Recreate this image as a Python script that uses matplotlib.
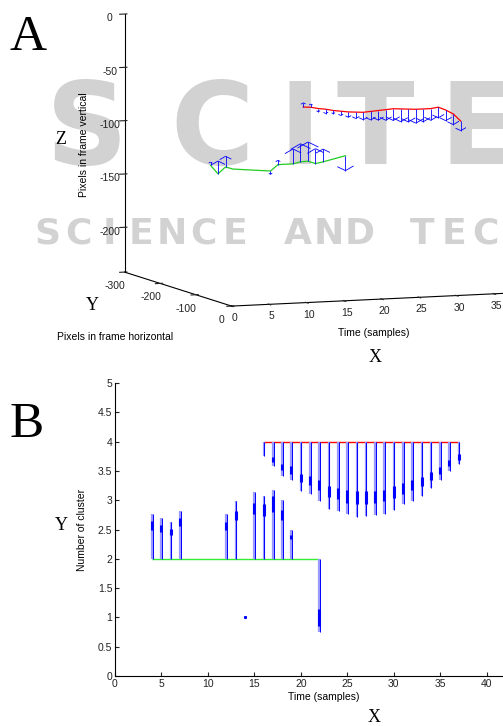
import matplotlib.pyplot as plt

# ---- panel A: trajectories (time, horizontal pixel, vertical pixel)
t_red = [16, 17, 18, 19, 20, 21, 22, 23, 24, 25, 26, 27, 28, 29, 30, 31, 32, 33, 34, 35, 36, 37]
y_red = [-135, -135, -135, -135, -135, -135, -135, -135, -135, -135, -135,
         -135, -135, -135, -135, -135, -135, -135, -135, -135, -135, -135]
z_red = [-75, -75.5, -77, -78, -79.5, -80.5, -81.5, -82, -82.5, -82, -81.5,
         -81, -80.5, -81, -81.5, -82, -82, -82, -81, -84, -88, -95]
dz_red = [4, 3, -3, -4, -3, -4, -5, -6, -7, -8, -9, -10, -11, -12, -12, -13,
          -12, -11, -10, -10, -10, -9]

t_green = [4, 5, 6, 7, 12, 13, 15, 16, 17, 18, 19, 22]
y_green = [-143, -143, -143, -143, -143, -143, -143, -143, -143, -143, -143, -143]
z_green = [-126.5, -134.8, -128.7, -131, -134.5, -128.8, -128.8, -127.2, -126.9, -129.5, -128.2, -123.4]
dz_green = [3, 12, 10, 0, -3, 4, 14, 17, 18, 14, 12, -14]

# ---- panel B: cluster membership over time
t_c4 = [16, 17, 18, 19, 20, 21, 22, 23, 24, 25, 26, 27, 28, 29, 30, 31, 32, 33, 34, 35, 36, 37]
c4_end = [3.76, 3.58, 3.42, 3.35, 3.15, 3.11, 2.99, 2.85, 2.81, 2.76, 2.72,
          2.73, 2.74, 2.77, 2.84, 2.94, 2.99, 3.08, 3.21, 3.34, 3.49, 3.62]
c4_box_hi = [3.80, 3.73, 3.62, 3.58, 3.45, 3.42, 3.35, 3.25, 3.21, 3.18, 3.15,
             3.15, 3.16, 3.18, 3.24, 3.30, 3.35, 3.40, 3.48, 3.57, 3.68, 3.78]
c4_box_lo = [3.80, 3.66, 3.52, 3.45, 3.31, 3.26, 3.17, 3.06, 3.02, 2.95, 2.94,
             2.94, 2.95, 2.98, 3.04, 3.11, 3.18, 3.25, 3.35, 3.45, 3.58, 3.69]

t_c2 = [4, 5, 6, 7, 12, 13, 15, 16, 17, 18, 19, 22]
c2_end = [2.76, 2.69, 2.62, 2.82, 2.76, 2.99, 3.14, 3.08, 3.18, 3.01, 2.50, 0.75]
c2_box_hi = [2.64, 2.58, 2.51, 2.69, 2.62, 2.82, 2.95, 2.93, 3.07, 2.84, 2.41, 1.15]
c2_box_lo = [2.50, 2.46, 2.40, 2.56, 2.50, 2.66, 2.76, 2.73, 2.80, 2.67, 2.33, 0.85]

t_c1 = [14]
c1_val = [1.0]

plt.rcParams['font.family'] = ['Liberation Sans', 'DejaVu Sans']
plt.rcParams['axes.unicode_minus'] = False
fig = plt.figure(figsize=(5.03, 7.26), dpi=100)
W, H = 503.0, 726.0

# watermark (publisher logo behind the figure)
wm = dict(fontweight='bold', color='#d2d2d2', family='DejaVu Sans', va='center',
          ha='center', zorder=-5)
for ch, cx in zip('SCITE', [87, 212, 300, 375, 478]):
    fig.text(cx / W, 1 - 133 / H, ch, fontsize=82, **wm)
for i, ch in enumerate('SCIENCE AND TECHNOLOGY'):
    fig.text((47 + 31.3 * i) / W, 1 - 234 / H, ch, fontsize=26, **wm)

# ---------------- panel A (3D)
axA = fig.add_axes([34.5 / W, 403.5 / H, 578 / W, 330 / H], projection='3d', proj_type='ortho')
axA.patch.set_alpha(0)
axA.set_box_aspect((315, 293, 255), zoom=1.5)
axA.view_init(elev=7, azim=-111)
axA.plot(t_red, y_red, z_red, color='red', lw=0.9)
axA.plot(t_green, y_green, z_green, color='#22cc22', lw=0.9)
zero_r = [0] * len(t_red)
zero_g = [0] * len(t_green)
axA.quiver(t_red, y_red, z_red, zero_r, zero_r, dz_red, color='blue', lw=0.6,
           arrow_length_ratio=0.3)
axA.quiver(t_green, y_green, z_green, zero_g, zero_g, dz_green, color='blue', lw=0.6,
           arrow_length_ratio=0.3)
axA.set_xlim(0, 40)
axA.set_ylim(0, -300)
axA.set_zlim(-242, 0)
axA.set_xticks([0, 5, 10, 15, 20, 25, 30, 35, 40])
axA.set_yticks([-300, -200, -100, 0])
axA.set_zticks([-200, -150, -100, -50, 0])
axA.grid(False)
for a in (axA.xaxis, axA.yaxis, axA.zaxis):
    a.set_pane_color((1, 1, 1, 0))
    a.pane.set_edgecolor((1, 1, 1, 0))
    a.line.set_color('black')
    a.line.set_linewidth(0.8)
axA.tick_params(labelsize=7.5, colors='#222222')
axA.tick_params(axis='x', pad=-5)
axA.tick_params(axis='y', pad=-4)
axA.tick_params(axis='z', pad=-3.5)

fig.text(84 / W, 1 - 145 / H, 'Pixels in frame vertical', rotation=90, fontsize=7.5,
         ha='center', va='center')
fig.text(57 / W, 1 - 337 / H, 'Pixels in frame horizontal', fontsize=7.5, ha='left', va='center')
fig.text(374 / W, 1 - 333 / H, 'Time (samples)', fontsize=7.5, ha='center', va='center')

# ---------------- panel B
axB = fig.add_axes([115 / W, 50 / H, 418 / W, 293 / H])
axB.patch.set_alpha(0)
axB.hlines(4, t_c4[0], t_c4[-1], color='red', lw=1)
axB.hlines(2, t_c2[0], t_c2[-1], color='#33ee33', lw=1)
for t, e, hi, lo in zip(t_c4, c4_end, c4_box_hi, c4_box_lo):
    axB.vlines(t, e, 4, color='#9999ff', lw=1.6)
    axB.vlines(t + 0.07, e, 4, color='blue', lw=0.7)
    axB.vlines(t, lo, hi, color='blue', lw=2.2)
for t, e, hi, lo in zip(t_c2, c2_end, c2_box_hi, c2_box_lo):
    axB.vlines(t, 2, e, color='#9999ff', lw=1.6)
    axB.vlines(t + 0.07, 2, e, color='blue', lw=0.7)
    axB.vlines(t, lo, hi, color='blue', lw=2.2)
axB.plot(t_c1, c1_val, 's', color='blue', ms=1.2)
axB.set_xlim(0, 45)
axB.set_ylim(0, 5)
axB.set_xticks([0, 5, 10, 15, 20, 25, 30, 35, 40])
axB.set_yticks([0, 0.5, 1, 1.5, 2, 2.5, 3, 3.5, 4, 4.5, 5])
axB.set_yticklabels(['0', '0.5', '1', '1.5', '2', '2.5', '3', '3.5', '4', '4.5', '5'])
axB.spines['top'].set_visible(False)
axB.spines['right'].set_visible(False)
axB.tick_params(direction='in', length=3, labelsize=7.5, colors='#222222', pad=2)
axB.set_xlabel('Time (samples)', fontsize=7.5, labelpad=2)
axB.set_ylabel('Number of cluster', fontsize=7.5, labelpad=8)

# panel letters and axis letters
serif = 'Liberation Serif'
fig.text(10 / W, 1 - 38 / H, 'A', fontsize=37, family=serif, va='center', ha='left')
fig.text(10 / W, 1 - 425 / H, 'B', fontsize=37, family=serif, va='center', ha='left')
fig.text(61 / W, 1 - 140 / H, 'Z', fontsize=13, family=serif, va='center', ha='center')
fig.text(92 / W, 1 - 306 / H, 'Y', fontsize=13, family=serif, va='center', ha='center')
fig.text(375 / W, 1 - 358 / H, 'X', fontsize=13, family=serif, va='center', ha='center')
fig.text(61 / W, 1 - 526 / H, 'Y', fontsize=13, family=serif, va='center', ha='center')
fig.text(374 / W, 1 - 717 / H, 'X', fontsize=13, family=serif, va='center', ha='center')

fig.savefig('out.png', dpi=100)
